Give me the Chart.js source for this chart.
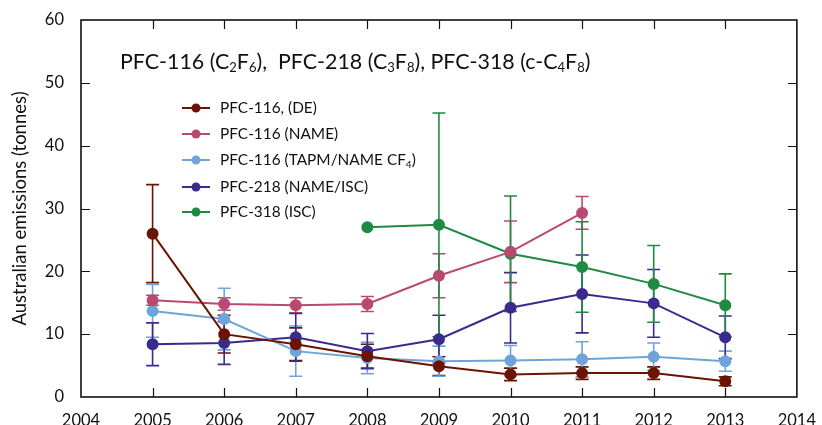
<!DOCTYPE html>
<html>
<head>
<meta charset="utf-8">
<script src="https://cdn.jsdelivr.net/npm/chart.js@4.4.1/dist/chart.umd.min.js"></script>
<style>
  html, body { margin: 0; padding: 0; background: #fff; }
  #wrap { width: 822px; height: 425px; position: relative; }
</style>
</head>
<body>
<div id="wrap"><canvas id="pfcChart"></canvas></div>
<script>
// data (tonnes)
const years = [2005, 2006, 2007, 2008, 2009, 2010, 2011, 2012, 2013];
const deVals = [26.0, 10.0, 8.4, 6.5, 4.9, 3.6, 3.8, 3.8, 2.5];
const deErr = [7.8, 3.0, 2.6, 1.9, 1.5, 1.0, 1.0, 1.0, 0.7];

const nameYears = [2005, 2006, 2007, 2008, 2009, 2010, 2011];
const nameVals = [15.4, 14.8, 14.6, 14.8, 19.3, 23.1, 29.3];
const nameErr = [0.8, 1.0, 1.2, 1.2, 3.5, 4.9, 2.6];

const tapmVals = [13.7, 12.4, 7.3, 6.2, 5.7, 5.8, 6.0, 6.4, 5.7];
const tapmErr = [4.2, 4.9, 4.0, 2.5, 2.4, 2.4, 2.8, 2.2, 1.6];

const p218Vals = [8.4, 8.6, 9.5, 7.3, 9.2, 14.2, 16.4, 14.9, 9.5];
const p218Err = [3.4, 3.4, 3.8, 2.8, 3.8, 5.6, 6.2, 5.4, 3.4];

const p318Years = [2008, 2009, 2010, 2011, 2012, 2013];
const p318Vals = [27.0, 27.4, 22.8, 20.7, 18.0, 14.6];
const p318Err = [null, 17.8, 9.2, 7.2, 6.1, 5.0];

const xTicks = [2004, 2005, 2006, 2007, 2008, 2009, 2010, 2011, 2012, 2013, 2014];
const yTicks = [0, 10, 20, 30, 40, 50, 60];

const FONT = 'Lato, "Open Sans", sans-serif';

function pts(xs, ys) {
    return xs.map((x, i) => ({ x: x, y: ys[i] }));
}

function makeSet(label, color, xs, ys, errs) {
    return {
        label: label,
        data: pts(xs, ys),
        errors: errs,
        borderColor: color,
        backgroundColor: color,
        borderWidth: 2,
        pointRadius: 5,
        pointHoverRadius: 5,
        tension: 0
    };
}

const datasets = [
    makeSet('PFC-116, (DE)', '#6b1404', years, deVals, deErr),
    makeSet('PFC-116 (NAME)', '#b84a70', nameYears, nameVals, nameErr),
    makeSet('PFC-116 (TAPM/NAME CF4)', '#6ea4d9', years, tapmVals, tapmErr),
    makeSet('PFC-218 (NAME/ISC)', '#3b2a8e', years, p218Vals, p218Err),
    makeSet('PFC-318 (ISC)', '#1f8a42', p318Years, p318Vals, p318Err)
];

// legend entries: text pieces, sub = subscript
const legendParts = [
    [['PFC-116, (DE)']],
    [['PFC-116 (NAME)']],
    [['PFC-116 (TAPM/NAME CF'], ['4', 'sub'], [')']],
    [['PFC-218 (NAME/ISC)']],
    [['PFC-318 (ISC)']]
];

const titleParts = [
    ['PFC-116 (C'], ['2', 'sub'], ['F'], ['6', 'sub'], ['),  PFC-218 (C'], ['3', 'sub'], ['F'], ['8', 'sub'],
    ['), PFC-318 (c-C'], ['4', 'sub'], ['F'], ['8', 'sub'], [')']
];

// draw text with subscripts, left aligned, vertically centered on y
function drawRich(ctx, parts, x, y, size) {
    ctx.textBaseline = 'middle';
    ctx.textAlign = 'left';
    parts.forEach(p => {
        if (p[1] === 'sub') {
            ctx.font = Math.round(size * 0.62) + 'px ' + FONT;
            ctx.fillText(p[0], x, y + size * 0.28);
        } else {
            ctx.font = size + 'px ' + FONT;
            ctx.fillText(p[0], x, y);
        }
        x += ctx.measureText(p[0]).width;
    });
}

// error bars drawn behind the lines
const errorBarPlugin = {
    id: 'errorBars',
    beforeDatasetsDraw(chart) {
        const ctx = chart.ctx;
        const xs = chart.scales.x, ys = chart.scales.y;
        ctx.save();
        chart.data.datasets.forEach(ds => {
            ctx.strokeStyle = ds.borderColor;
            ctx.lineWidth = 1.6;
            ds.data.forEach((p, i) => {
                const e = ds.errors[i];
                if (e == null) return;
                const px = xs.getPixelForValue(p.x);
                const top = ys.getPixelForValue(p.y + e);
                const bot = ys.getPixelForValue(p.y - e);
                ctx.beginPath();
                ctx.moveTo(px, top); ctx.lineTo(px, bot);
                ctx.moveTo(px - 6.5, top); ctx.lineTo(px + 6.5, top);
                ctx.moveTo(px - 6.5, bot); ctx.lineTo(px + 6.5, bot);
                ctx.stroke();
            });
        });
        ctx.restore();
    }
};

// frame, inward ticks, title and legend
const framePlugin = {
    id: 'frame',
    afterDraw(chart) {
        const ctx = chart.ctx;
        const a = chart.chartArea;
        const xs = chart.scales.x, ys = chart.scales.y;
        ctx.save();
        ctx.strokeStyle = '#111';
        ctx.lineWidth = 1.6;
        ctx.strokeRect(a.left, a.top, a.right - a.left, a.bottom - a.top);
        ctx.lineWidth = 1.2;
        ctx.beginPath();
        yTicks.slice(1, -1).forEach(v => {
            const py = Math.round(ys.getPixelForValue(v)) + 0.5;
            ctx.moveTo(a.left, py); ctx.lineTo(a.left + 9, py);
            ctx.moveTo(a.right, py); ctx.lineTo(a.right - 9, py);
        });
        xTicks.slice(1, -1).forEach(v => {
            const px = Math.round(xs.getPixelForValue(v)) + 0.5;
            ctx.moveTo(px, a.bottom); ctx.lineTo(px, a.bottom - 9);
            ctx.moveTo(px, a.top); ctx.lineTo(px, a.top + 9);
        });
        ctx.stroke();

        ctx.fillStyle = '#111';
        drawRich(ctx, titleParts, 120, 62, 21.4);

        const rowY = [108, 134, 160, 187, 212];
        chart.data.datasets.forEach((ds, i) => {
            const y = rowY[i];
            ctx.strokeStyle = ds.borderColor;
            ctx.fillStyle = ds.borderColor;
            ctx.lineWidth = 2;
            ctx.beginPath();
            ctx.moveTo(182, y); ctx.lineTo(210, y);
            ctx.stroke();
            ctx.beginPath();
            ctx.arc(196, y, 4.5, 0, Math.PI * 2);
            ctx.fill();
            ctx.fillStyle = '#111';
            drawRich(ctx, legendParts[i], 220, y, 15.4);
        });
        ctx.restore();
    }
};

const ctx = document.getElementById('pfcChart').getContext('2d');
const myChart = new Chart(ctx, {
    type: 'line',
    data: { datasets: datasets },
    plugins: [errorBarPlugin, framePlugin],
    options: {
        responsive: true,
        maintainAspectRatio: false,
        animation: false,
        layout: { padding: { top: 20, right: 21, left: 0, bottom: 0 } },
        plugins: {
            legend: { display: false },
            tooltip: { enabled: false }
        },
        scales: {
            x: {
                type: 'linear',
                min: 2004,
                max: 2014,
                grid: { display: false },
                border: { display: false },
                afterBuildTicks(scale) { scale.ticks = xTicks.map(v => ({ value: v })); },
                afterFit(scale) { scale.height = 28; },
                ticks: {
                    color: '#111',
                    padding: 6,
                    maxRotation: 0,
                    autoSkip: false,
                    font: { family: FONT, size: 16.5 },
                    callback: v => String(v)
                }
            },
            y: {
                min: 0,
                max: 60,
                grid: { display: false },
                border: { display: false },
                afterBuildTicks(scale) { scale.ticks = yTicks.map(v => ({ value: v })); },
                afterFit(scale) { scale.width = 81; },
                title: {
                    display: true,
                    text: 'Australian emissions (tonnes)',
                    color: '#111',
                    padding: { top: 9, bottom: 0 },
                    font: { family: FONT, size: 18.5 }
                },
                ticks: {
                    color: '#111',
                    padding: 9,
                    font: { family: FONT, size: 16.5 },
                    callback: v => String(v)
                }
            }
        }
    }
});
</script>
</body>
</html>
